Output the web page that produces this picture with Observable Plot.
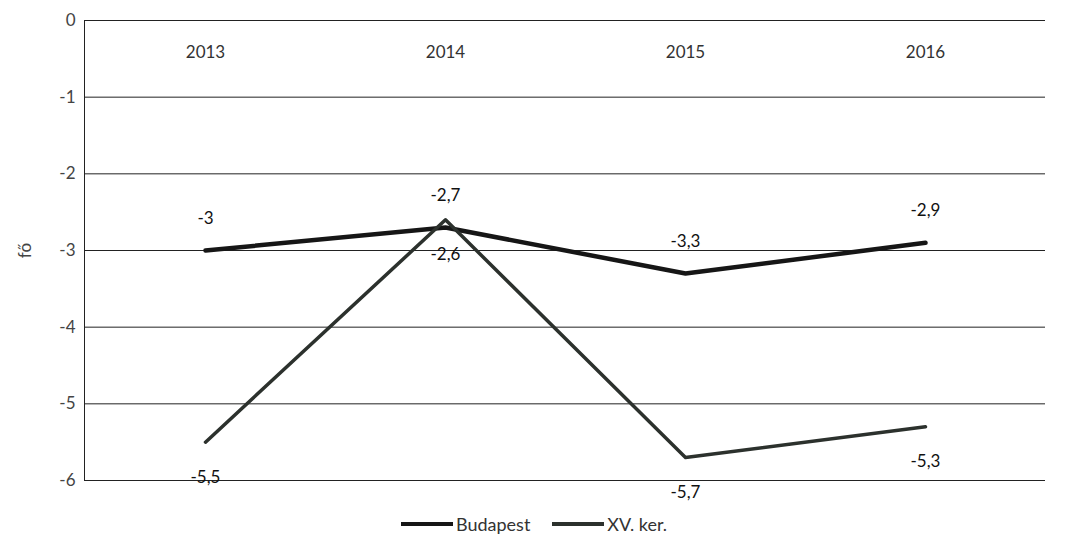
<!DOCTYPE html>
<html>
<head>
<meta charset="utf-8">
<script src="https://cdn.jsdelivr.net/npm/d3@7"></script>
<script src="https://cdn.jsdelivr.net/npm/@observablehq/plot@0.6"></script>
<style>
  body { margin: 0; background: #fff; font-family: Lato, "Open Sans", sans-serif; }
  #legend { display: flex; justify-content: center; align-items: center; height: 37px; font-size: 18px; color: #333; gap: 22px; }
  .item { display: flex; align-items: center; }
  .sw { display: inline-block; width: 52px; margin-right: 3px; }
</style>
</head>
<body>
<div id="chart"></div>
<div id="legend"></div>
<script>
const years = ["2013", "2014", "2015", "2016"];
const budapest = [-3, -2.7, -3.3, -2.9];
const xv = [-5.5, -2.6, -5.7, -5.3];
const seriesNames = ["Budapest", "XV. ker."];
const seriesColors = ["#161616", "#2c312d"];
const seriesWidths = [4.5, 3.5];
const yTicks = [0, -1, -2, -3, -4, -5, -6];

const rows = [];
years.forEach((y, i) => {
  rows.push({year: y, value: budapest[i], series: seriesNames[0]});
  rows.push({year: y, value: xv[i], series: seriesNames[1]});
});
const fmt = v => String(v).replace(".", ",");
const bud = rows.filter(d => d.series === seriesNames[0]);
const xvr = rows.filter(d => d.series === seriesNames[1]);

const chart = Plot.plot({
  width: 1068,
  height: 505,
  marginLeft: 84,
  marginRight: 23,
  marginTop: 20,
  marginBottom: 25,
  style: {fontFamily: "Lato, 'Open Sans', sans-serif", fontSize: "17px", background: "#fff", overflow: "visible"},
  x: {type: "point", domain: years, padding: 0.5},
  y: {domain: [-6, 0]},
  marks: [
    Plot.ruleY(yTicks, {stroke: "#222", strokeWidth: 1}),
    Plot.frame({anchor: "left", stroke: "#222", strokeWidth: 1}),
    Plot.axisY(yTicks, {tickSize: 0, tickPadding: 9, fontSize: 17, color: "#444", tickFormat: d => String(d), label: "fő", labelAnchor: "center", labelArrow: "none", labelOffset: 66}),
    Plot.axisX({anchor: "top", tickSize: 0, tickPadding: 0, dy: 37, fontSize: 17, color: "#333", label: null}),
    Plot.line(bud, {x: "year", y: "value", stroke: seriesColors[0], strokeWidth: seriesWidths[0]}),
    Plot.line(xvr, {x: "year", y: "value", stroke: seriesColors[1], strokeWidth: seriesWidths[1]}),
    Plot.text(bud, {x: "year", y: "value", text: d => fmt(d.value), dy: -32, fontSize: 17, fill: "#111"}),
    Plot.text(xvr, {x: "year", y: "value", text: d => fmt(d.value), dy: 35, fontSize: 17, fill: "#111"})
  ]
});
document.getElementById("chart").appendChild(chart);

const legend = document.getElementById("legend");
seriesNames.forEach((n, i) => {
  const item = document.createElement("span");
  item.className = "item";
  const sw = document.createElement("span");
  sw.className = "sw";
  sw.style.borderTop = "4px solid " + seriesColors[i];
  item.appendChild(sw);
  item.appendChild(document.createTextNode(n));
  legend.appendChild(item);
});
</script>
</body>
</html>
